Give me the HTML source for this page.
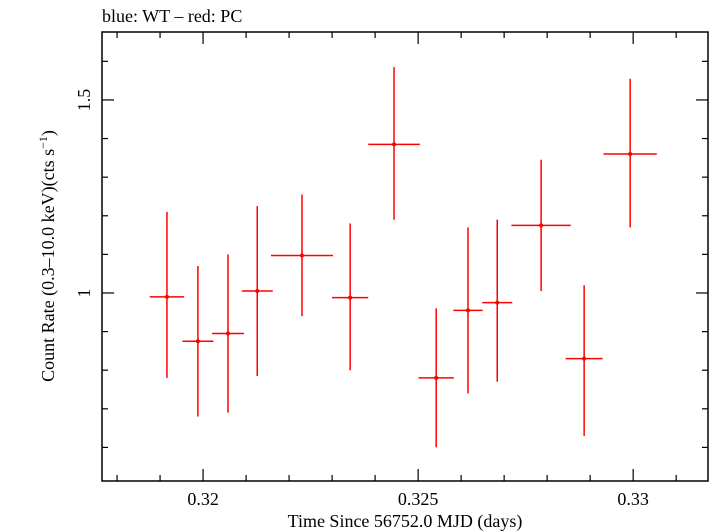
<!DOCTYPE html>
<html><head><meta charset="utf-8"><style>
body{margin:0;background:#fff;}
svg{display:block;font-family:"Liberation Serif",serif;}
</style></head><body>
<svg id="chart" width="709" height="532" xmlns="http://www.w3.org/2000/svg">
<text x="102" y="22" font-size="18">blue: WT – red: PC</text>
<rect x="102" y="32" width="606" height="449" fill="none" stroke="#000" stroke-width="1.5"/>
<g id="axes"></g>
<g id="series"></g>
<text x="405" y="527" font-size="18" text-anchor="middle">Time Since 56752.0 MJD (days)</text>
<text transform="translate(54,256) rotate(-90)" font-size="18" text-anchor="middle">Count Rate (0.3–10.0 keV)(cts s<tspan font-size="12" dy="-7">−1</tspan><tspan dy="7">)</tspan></text>
</svg>
<script>
const times=[0.31916,0.31988,0.32058,0.32126,0.3223,0.32342,0.32444,0.32542,0.32616,0.32684,0.32786,0.32886,0.32993];
const timeErr=[0.0004,0.00036,0.00037,0.00036,0.00072,0.00042,0.0006,0.00041,0.00034,0.00035,0.00069,0.00043,0.00062];
const rates=[0.99,0.875,0.895,1.005,1.097,0.988,1.385,0.78,0.955,0.975,1.175,0.83,1.36];
const rateLo=[0.78,0.68,0.69,0.785,0.94,0.80,1.19,0.60,0.74,0.77,1.005,0.63,1.17];
const rateHi=[1.21,1.07,1.10,1.225,1.255,1.18,1.585,0.96,1.17,1.19,1.345,1.02,1.555];
const xTickLabels=["0.32","0.325","0.33"];
const xTickValues=[0.32,0.325,0.33];
const yTickLabels=["1","1.5"];
const yTickValues=[1,1.5];
const L=102,R=708,T=32,B=481;
const X0=0.31765,X1=0.33174,Y0=0.513,Y1=1.676;
const sx=v=>L+(v-X0)/(X1-X0)*(R-L);
const sy=v=>B-(v-Y0)/(Y1-Y0)*(B-T);
const NS="http://www.w3.org/2000/svg";
const ax=document.getElementById('axes'),se=document.getElementById('series');
function mk(tag,at,p){const e=document.createElementNS(NS,tag);for(const k in at)e.setAttribute(k,at[k]);p.appendChild(e);return e;}
for(let i=318;i<=331;i++){const v=i/1000;const x=sx(v);if(x<L||x>R)continue;
 const major=(i%5===0);const len=major?12:6;
 const a=mk('line',{x1:x,x2:x,y1:B,y2:B-len,stroke:'#000','stroke-width':1.2},ax);
 
 
 const b=mk('line',{x1:x,x2:x,y1:T,y2:T+len,stroke:'#000','stroke-width':1.2},ax);
 
 }
for(let i=6;i<=16;i++){const v=i/10;const y=sy(v);if(y<T||y>B)continue;
 const major=(i%5===0);const len=major?12:6;
 const a=mk('line',{x1:L,x2:L+len,y1:y,y2:y,stroke:'#000','stroke-width':1.2},ax);
 
 
 const b=mk('line',{x1:R,x2:R-len,y1:y,y2:y,stroke:'#000','stroke-width':1.2},ax);
 
 }
xTickLabels.forEach((t,i)=>{const e=mk('text',{x:sx(xTickValues[i]),y:505,'font-size':18,'text-anchor':'middle'},ax);e.textContent=t;
 
 });
yTickLabels.forEach((t,i)=>{const y=sy(yTickValues[i]);const e=mk('text',{x:0,y:0,'font-size':18,'text-anchor':'middle',transform:`translate(90,${y}) rotate(-90)`},ax);e.textContent=t;
 
 });
times.forEach((t,i)=>{const g=mk('g',{},se);
 
 
 mk('line',{x1:sx(t-timeErr[i]),x2:sx(t+timeErr[i]),y1:sy(rates[i]),y2:sy(rates[i]),stroke:'#f00','stroke-width':1.5},g);
 mk('line',{x1:sx(t),x2:sx(t),y1:sy(rateLo[i]),y2:sy(rateHi[i]),stroke:'#f00','stroke-width':1.5},g);
 mk('circle',{cx:sx(t),cy:sy(rates[i]),r:2,fill:'#f00'},g);});
</script>
</body></html>
